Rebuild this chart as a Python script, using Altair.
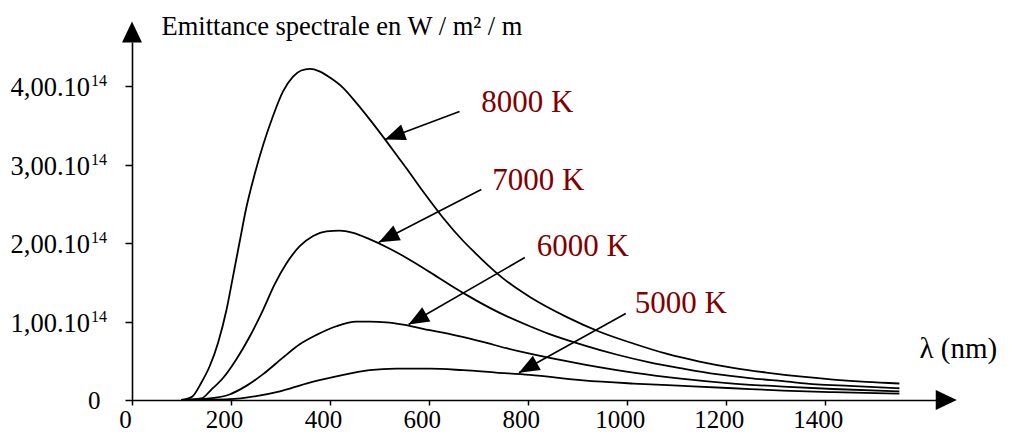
import altair as alt
import pandas as pd

FONT = "Liberation Serif"
DARKRED = "#800000"

# Spectral emittance curves, wavelength in nm, emittance in units of 10^14 W/m²/m
wl_8000 = [100, 121, 140, 157, 174, 191, 204, 218, 231, 248, 265, 285, 305, 325, 342, 359, 379, 400,
           423, 453, 480, 514, 541, 555, 588, 629, 669, 696, 709, 750, 805, 878, 945, 1013, 1080, 1147,
           1215, 1282, 1349, 1417, 1484, 1551]
em_8000 = [0.0, 0.04, 0.22, 0.43, 0.73, 1.15, 1.57, 2.03, 2.45, 2.88, 3.25, 3.62, 3.93, 4.12, 4.20, 4.22, 4.19, 4.11,
           4.00, 3.79, 3.58, 3.30, 3.07, 2.95, 2.66, 2.32, 2.03, 1.86, 1.78, 1.55, 1.31, 1.06, 0.87, 0.72, 0.59, 0.49,
           0.41, 0.35, 0.30, 0.26, 0.23, 0.21]

wl_7000 = [100, 140, 160, 184, 211, 238, 265, 288, 312, 339, 366, 393, 420, 447, 480, 514, 541, 555, 602, 642,
           676, 740, 804, 844, 912, 979, 1046, 1114, 1181, 1248, 1316, 1383, 1450, 1551]
em_7000 = [0.0, 0.02, 0.13, 0.28, 0.52, 0.81, 1.15, 1.47, 1.74, 1.96, 2.09, 2.15, 2.16, 2.13, 2.05, 1.95, 1.86, 1.81, 1.63, 1.47,
           1.34, 1.12, 0.94, 0.84, 0.70, 0.58, 0.48, 0.40, 0.33, 0.28, 0.24, 0.20, 0.18, 0.15]

wl_6000 = [100, 157, 197, 231, 265, 305, 339, 373, 413, 453, 480, 514, 548, 602, 656, 709, 757, 804, 912, 1013,
           1114, 1215, 1316, 1417, 1551]
em_6000 = [0.0, 0.02, 0.07, 0.18, 0.33, 0.54, 0.71, 0.83, 0.94, 1.00, 1.00, 0.99, 0.96, 0.89, 0.82, 0.74, 0.66, 0.59, 0.455, 0.35,
           0.27, 0.21, 0.17, 0.14, 0.11]

wl_5000 = [100, 197, 251, 299, 352, 413, 480, 534, 602, 669, 736, 804, 912, 1013, 1114, 1215, 1316, 1417, 1551]
em_5000 = [0.0, 0.01, 0.05, 0.11, 0.21, 0.30, 0.38, 0.40, 0.40, 0.38, 0.35, 0.32, 0.25, 0.21, 0.18, 0.15, 0.12, 0.10, 0.08]

# Annotations
label_text = ["8000 K", "7000 K", "6000 K", "5000 K"]
label_wl = [706, 728, 818, 1016]
label_em = [3.665, 2.683, 1.833, 1.115]
arrow_from_wl = [662, 706, 794, 998]
arrow_from_em = [3.678, 2.683, 1.816, 1.103]
arrow_to_wl = [511, 499, 559, 782]
arrow_to_em = [3.321, 2.011, 0.962, 0.347]
arrow_angle = [249.5, 242.8, 240.0, 241.0]

# Axes
x_ticks = [0, 200, 400, 600, 800, 1000, 1200, 1400]
y_ticks = [0, 1, 2, 3, 4]
y_tick_vals = [1, 2, 3, 4]
y_tick_main = ["1,00.10", "2,00.10", "3,00.10", "4,00.10"]
y_tick_sup = ["14", "14", "14", "14"]
X_MAX = 1625
Y_MAX = 4.5635
X_ARROW_TIP = 1667
Y_ARROW_TIP = 4.825

rows = []
for T, wl, em in [("8000 K", wl_8000, em_8000), ("7000 K", wl_7000, em_7000),
                  ("6000 K", wl_6000, em_6000), ("5000 K", wl_5000, em_5000)]:
    for w, e in zip(wl, em):
        rows.append({"T": T, "wl": w, "em": e})
curves = pd.DataFrame(rows)

ann = pd.DataFrame({
    "text": label_text, "lx": label_wl, "ly": label_em,
    "fx": arrow_from_wl, "fy": arrow_from_em, "tx": arrow_to_wl, "ty": arrow_to_em,
    "angle": arrow_angle,
})
ylab = pd.DataFrame({"v": y_tick_vals, "main": y_tick_main, "sup": y_tick_sup})

xs = alt.Scale(domain=[0, X_MAX], nice=False, zero=False)
ys = alt.Scale(domain=[0, Y_MAX], nice=False, zero=False)

x_axis = alt.Axis(
    values=x_ticks, format="d", grid=False, tickSize=5, tickWidth=1.5, tickColor="black",
    domainColor="black", domainWidth=1.6, labelFont=FONT, labelFontSize=25,
    labelColor="black", labelPadding=2, labelOffset=-7, labelFlush=False,
    title="λ (nm)", titleFont=FONT, titleFontSize=29, titleFontWeight="normal",
    titleColor="black", titleX=787, titleY=-43, titleAlign="left",
    titleBaseline="alphabetic", titleAngle=0,
)
y_axis = alt.Axis(
    values=y_ticks, grid=False, tickSize=7, tickWidth=1.5, tickColor="black",
    domainColor="black", domainWidth=1.6, labelFont=FONT, labelFontSize=25,
    labelColor="black", labelPadding=25, labelFlush=False,
    labelExpr="datum.value == 0 ? '0' : ''",
    title="Emittance spectrale en W / m² / m", titleFont=FONT, titleFontSize=26.5,
    titleFontWeight="normal", titleColor="black", titleAngle=0, titleX=29, titleY=-8,
    titleAlign="left", titleBaseline="alphabetic",
)

lines = alt.Chart(curves).mark_line(color="black", strokeWidth=1.8, interpolate="monotone").encode(
    x=alt.X("wl:Q", scale=xs, axis=x_axis),
    y=alt.Y("em:Q", scale=ys, axis=y_axis),
    detail="T:N",
)

arrow_lines = alt.Chart(ann).mark_rule(color="black", strokeWidth=1.6).encode(
    x=alt.X("fx:Q", scale=xs), y=alt.Y("fy:Q", scale=ys), x2="tx:Q", y2="ty:Q",
)
arrow_heads = alt.Chart(ann).mark_point(
    shape="M0,0 L-0.8,2 L0.8,2 Z", filled=True, color="black", size=420, opacity=1, strokeWidth=0
).encode(
    x=alt.X("tx:Q", scale=xs), y=alt.Y("ty:Q", scale=ys),
    angle=alt.Angle("angle:Q", scale=None),
)
labels = alt.Chart(ann).mark_text(
    font=FONT, fontSize=31, color=DARKRED, align="left", baseline="alphabetic"
).encode(x=alt.X("lx:Q", scale=xs), y=alt.Y("ly:Q", scale=ys), text="text:N")

ymain = alt.Chart(ylab).mark_text(
    font=FONT, fontSize=26.5, color="black", align="right", baseline="middle", dy=2
).encode(x=alt.value(-42), y=alt.Y("v:Q", scale=ys), text="main:N")
ysup = alt.Chart(ylab).mark_text(
    font=FONT, fontSize=16, color="black", align="left", baseline="middle", dy=-5
).encode(x=alt.value(-41), y=alt.Y("v:Q", scale=ys), text="sup:N")

axis_arrows = pd.DataFrame({
    "x": [X_ARROW_TIP, 0], "y": [0, Y_ARROW_TIP],
    "shape": ["M0,0 L-2.1,-1 L-2.1,1 Z", "M0,0 L-1,2.1 L1,2.1 Z"],
})
ax_heads = alt.Chart(axis_arrows).mark_point(
    filled=True, color="black", size=400, opacity=1, strokeWidth=0
).encode(
    x=alt.X("x:Q", scale=xs), y=alt.Y("y:Q", scale=ys),
    shape=alt.Shape("shape:N", scale=None),
)

chart = alt.layer(lines, arrow_lines, arrow_heads, labels, ymain, ysup, ax_heads).properties(
    width=804, height=358,
    background="white",
    autosize=alt.AutoSizeParams(type="none"),
    padding={"left": 124, "top": 34, "right": 68, "bottom": 31},
).configure_view(strokeWidth=0, stroke="transparent")

chart.save("out.html", embed_options={"renderer": "svg", "actions": False})
